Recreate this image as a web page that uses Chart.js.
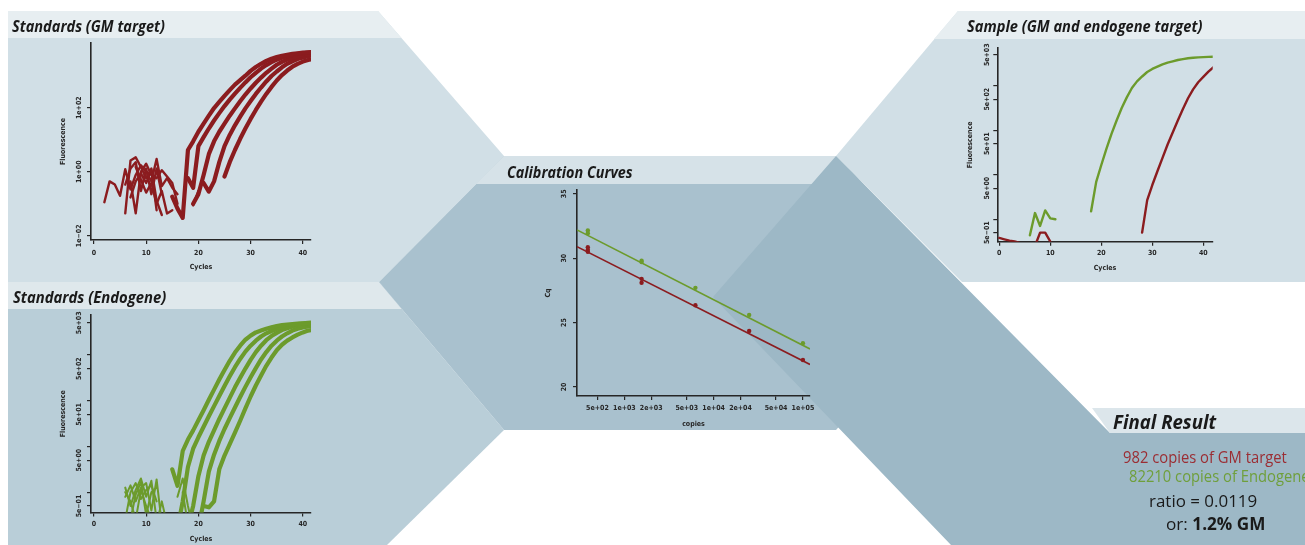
<!DOCTYPE html>
<html>
<head>
<meta charset="utf-8">
<title>qPCR quantification</title>
<script src="https://cdn.jsdelivr.net/npm/chart.js@4.4.1/dist/chart.umd.min.js"></script>
<style>
  html, body { margin: 0; padding: 0; background: #fff; }
  #stage { position: relative; width: 1305px; height: 545px; overflow: hidden; }
  #bg, .chart { position: absolute; }
  .txt { position: absolute; left: 0; top: 0; white-space: nowrap; transform-origin: 0 0;
         font-family: "Open Sans", "Liberation Sans", sans-serif; color: #1a1a1a; }
  .head { font-weight: 700; font-style: italic; font-size: 15.5px; }
</style>
</head>
<body>
<div id="stage">
  <canvas id="bg" width="1305" height="545" style="left:0;top:0"></canvas>
  <canvas id="gmChart" class="chart" width="280" height="250" style="left:40px;top:33px"></canvas>
  <canvas id="enChart" class="chart" width="280" height="240" style="left:40px;top:305px"></canvas>
  <canvas id="calChart" class="chart" width="290" height="245" style="left:530px;top:185px"></canvas>
  <canvas id="smpChart" class="chart" width="272" height="245" style="left:950px;top:38px"></canvas>

  <div class="txt head" data-x="12" data-b="31.5" data-w="153">Standards (GM target)</div>
  <div class="txt head" data-x="13" data-b="303" data-w="153">Standards (Endogene)</div>
  <div class="txt head" data-x="507" data-b="177.5" data-w="126">Calibration Curves</div>
  <div class="txt head" data-x="967" data-b="31.5" data-w="235">Sample (GM and endogene target)</div>
  <div class="txt head" style="font-size:19px" data-x="1113" data-b="428.5" data-w="103">Final Result</div>
  <div class="txt" id="res1" style="font-size:15.5px;color:#9b2d33" data-x="1123" data-b="462.5" data-w="164">982 copies of GM target</div>
  <div class="txt" style="font-size:15.5px;color:#6f9f3b" data-x="1129" data-b="481.5" data-same="res1">82210 copies of Endogene</div>
  <div class="txt" style="font-size:16px" data-x="1149" data-b="507" data-w="108">ratio = 0.0119</div>
  <div class="txt" style="font-size:17px" data-x="1166" data-b="530" data-w="99">or: <b>1.2% GM</b></div>
</div>
<script>
// ---------- data (fluorescence as log10, each run starts at the given cycle) ----------
const cycleTicks = [0, 10, 20, 30, 40];
const cycleLabels = ["0", "10", "20", "30", "40"];

const gmYTicks = [-2, 0, 2];
const gmYLabels = ["1e\u221202", "1e+00", "1e+02"];
const fiveYTicks = [-0.301, 0, 0.699, 1, 1.699, 2, 2.699, 3, 3.699];
const fiveYLabels = ["5e\u221201", "", "5e+00", "", "5e+01", "", "5e+02", "", "5e+03"];

// Standards (GM target)
const gmRunStarts = [15, 18, 19, 21, 25];
const gmRunA = [-0.78, -1.15, -1.44, 0.68, 0.95, 1.25, 1.5, 1.75, 1.99, 2.18, 2.37, 2.55, 2.72, 2.86, 3.0, 3.15, 3.27, 3.37, 3.46, 3.53, 3.58, 3.62, 3.65, 3.68, 3.7, 3.72, 3.73, 3.74];
const gmRunB = [-0.2, -0.5, 0.8, 1.08, 1.35, 1.6, 1.83, 2.05, 2.25, 2.44, 2.62, 2.79, 2.95, 3.09, 3.22, 3.33, 3.42, 3.5, 3.56, 3.61, 3.65, 3.68, 3.7, 3.72, 3.73];
const gmRunC = [-1.0, -0.7, -0.1, 0.55, 0.95, 1.25, 1.5, 1.75, 1.98, 2.2, 2.41, 2.6, 2.78, 2.94, 3.09, 3.22, 3.34, 3.43, 3.5, 3.56, 3.61, 3.65, 3.67, 3.69];
const gmRunD = [-0.35, -0.62, -0.3, 0.3, 0.8, 1.15, 1.45, 1.72, 1.98, 2.21, 2.43, 2.63, 2.82, 2.99, 3.13, 3.26, 3.37, 3.45, 3.52, 3.57, 3.61, 3.64];
const gmRunE = [-0.15, 0.3, 0.68, 1.03, 1.35, 1.65, 1.93, 2.19, 2.43, 2.65, 2.85, 3.02, 3.16, 3.28, 3.37, 3.44, 3.49, 3.52];
const gmNoiseStarts = [2, 6, 7, 6, 7, 8, 19];
const gmNoise1 = [-0.95, -0.3, -0.4, -0.75, 0.08, -0.55, -0.1, 0.2, 0.0, -0.3, 0.4, -0.45, -0.2, -0.5, -0.7];
const gmNoise2 = [-1.3, 0.35, 0.45, 0.15, -0.2, 0.1, -0.9, -1.35];
const gmNoise3 = [-0.3, -1.3, 0.0, 0.25, -0.1, -0.2, 0.05, -0.15, -0.35, -1.0];
const gmNoise4 = [-0.4, 0.1, 0.3, -0.6, 0.1, -0.7, 0.1, -0.7];
const gmNoise5 = [-0.8, -0.3, -0.05, -0.35, 0.05, -1.2];
const gmNoise6 = [0.15, -0.25, -0.65, -0.35, -1.0, -0.6, -1.3, -1.2];
const gmNoise7 = [-1.05, -0.6];

// Standards (Endogene)
const enRunStarts = [15, 16, 18, 20, 21];
const enRunA = [0.5, 0.14, 0.9, 1.15, 1.35, 1.57, 1.79, 2.02, 2.24, 2.46, 2.67, 2.87, 3.05, 3.2, 3.33, 3.42, 3.49, 3.53, 3.57, 3.6, 3.63, 3.65, 3.66, 3.67, 3.68, 3.69, 3.7, 3.71];
const enRunB = [-0.8, -0.2, 0.55, 0.95, 1.2, 1.43, 1.66, 1.88, 2.1, 2.32, 2.53, 2.73, 2.91, 3.07, 3.2, 3.31, 3.4, 3.47, 3.52, 3.57, 3.6, 3.63, 3.65, 3.67, 3.68, 3.69, 3.7];
const enRunC = [-0.75, -0.3, 0.35, 0.8, 1.1, 1.35, 1.6, 1.83, 2.06, 2.29, 2.5, 2.7, 2.89, 3.06, 3.2, 3.32, 3.41, 3.48, 3.54, 3.58, 3.62, 3.64, 3.66, 3.67, 3.68];
const enRunD = [-0.8, -0.2, 0.45, 0.82, 1.12, 1.38, 1.62, 1.85, 2.08, 2.3, 2.51, 2.71, 2.9, 3.06, 3.2, 3.31, 3.4, 3.47, 3.53, 3.57, 3.6, 3.62, 3.63];
const enRunE = [-0.3, -0.33, -0.2, 0.5, 0.8, 1.05, 1.3, 1.56, 1.83, 2.09, 2.33, 2.55, 2.76, 2.94, 3.1, 3.22, 3.31, 3.38, 3.44, 3.49, 3.53, 3.55];
const enNoiseStarts = [6, 6, 6, 7, 6, 12, 16, 17];
const enNoise1 = [0.1, -0.3, 0.05, 0.3, -0.1, 0.25, -0.6];
const enNoise2 = [-0.1, 0.15, -0.2, 0.1, 0.2, -0.4, 0.28, -0.7];
const enNoise3 = [-0.6, 0.0, 0.2, -0.15, 0.05, 0.15, -0.2];
const enNoise4 = [-0.6, -0.05, 0.22, -0.5, 0.0, 0.1];
const enNoise5 = [0.0, -0.2, -0.6, 0.05, -0.3, -0.6];
const enNoise6 = [-0.7, -0.2, -0.7];
const enNoise7 = [-0.1, 0.3, -0.3, -0.8];
const enNoise8 = [0.0, -0.7];

// Sample (GM and endogene target)
const smpGreenNoiseStart = 6;
const smpGreenNoise = [-0.36, 0.14, -0.15, 0.2, 0.02, 0.0];
const smpGreenStart = 18;
const smpGreen = [0.18, 0.84, 1.22, 1.58, 1.92, 2.22, 2.5, 2.74, 2.95, 3.1, 3.21, 3.31, 3.38, 3.43, 3.48, 3.52, 3.55, 3.58, 3.6, 3.62, 3.63, 3.64, 3.645, 3.65, 3.655];
const smpRedNoiseStarts = [0, 7];
const smpRedNoise1 = [-0.42, -0.45, -0.48, -0.5, -0.53];
const smpRedNoise2 = [-0.6, -0.3, -0.3, -0.5];
const smpRedStart = 28;
const smpRed = [-0.3, 0.43, 0.77, 1.08, 1.38, 1.68, 1.95, 2.22, 2.48, 2.72, 2.92, 3.08, 3.2, 3.32, 3.42];

// Calibration curves
const calXTicks = [500, 1000, 2000, 5000, 10000, 20000, 50000, 100000];
const calXLabels = ["5e+02", "1e+03", "2e+03", "5e+03", "1e+04", "2e+04", "5e+04", "1e+05"];
const calYTicks = [20, 25, 30, 35];
const calYLabels = ["20", "25", "30", "35"];
const calGmCopies = [390, 390, 390, 1560, 1560, 6250, 25000, 100000];
const calGmCq = [30.85, 30.65, 30.5, 28.4, 28.1, 26.35, 24.35, 22.1];
const calEnCopies = [390, 390, 1560, 1560, 6250, 25000, 100000];
const calEnCq = [32.15, 31.95, 29.8, 29.7, 27.7, 25.6, 23.4];
const fitCopies = [295, 120000];
const fitGmCq = [30.9, 21.75];
const fitEnCq = [32.2, 22.95];

// ---------- styling ----------
const INK = "#262626";
const RED = "#8b1c1f";
const GREEN = "#6c9b2c";
const FAMILY = "'Liberation Sans Narrow','DejaVu Sans Condensed',sans-serif";
const tickFont = { family: FAMILY, size: 7, weight: "bold" };

// ---------- background panels ----------
const bg = document.getElementById("bg").getContext("2d");
function panel(points, color) {
  bg.beginPath();
  points.forEach(([x, y], i) => (i ? bg.lineTo(x, y) : bg.moveTo(x, y)));
  bg.closePath();
  bg.fillStyle = color;
  bg.fill();
}
panel([[8, 11], [378, 11], [504, 156], [379, 282], [8, 282]], "#d1dfe6");
panel([[8, 11], [378, 11], [401.5, 38], [8, 38]], "#e7eef1");
panel([[8, 282], [379, 282], [504, 430], [387, 545], [8, 545]], "#b9ced8");
panel([[8, 282], [379, 282], [401.8, 309], [8, 309]], "#dfe8ec");
panel([[379, 282], [504, 156], [838, 156], [962, 293], [836, 430], [504, 430]], "#a9c1ce");
panel([[504, 156], [838, 156], [862, 184], [476, 184]], "#d6e2e8");
panel([[958, 11], [1305, 11], [1305, 282], [962, 282], [836, 156]], "#d1dfe6");
panel([[958, 11], [1305, 11], [1305, 39], [934, 39]], "#e7eef1");
panel([[836, 156], [1110, 433], [1305, 433], [1305, 545], [951, 545], [713, 297]], "#9db8c6");
panel([[1092, 408], [1305, 408], [1305, 433], [1110, 433]], "#dce6eb");

// ---------- text placement ----------
const scales = {};
document.querySelectorAll(".txt").forEach(el => {
  const mark = document.createElement("span");
  mark.style.cssText = "display:inline-block;width:0;height:0";
  el.appendChild(mark);
  el.style.left = el.dataset.x + "px";
  el.style.top = (el.dataset.b - mark.offsetTop) + "px";
  let k = 1;
  if (el.dataset.w) k = el.dataset.w / el.offsetWidth;
  if (el.dataset.same) k = scales[el.dataset.same];
  if (el.id) scales[el.id] = k;
  el.style.transform = "scaleX(" + k + ")";
});

// ---------- chart helpers ----------
function run(start, vals, color, width) {
  return {
    data: vals.map((v, i) => ({ x: start + i, y: v })),
    borderColor: color, borderWidth: width, pointRadius: 0, tension: 0,
    borderCapStyle: "round", borderJoinStyle: "round", clip: 0
  };
}

function axisStyle() {
  return {
    grid: { drawOnChartArea: false, drawTicks: true, tickLength: 4, color: INK, lineWidth: 1.2 },
    border: { display: true, color: INK, width: 1.6 }
  };
}

function xAxis(c) {
  return Object.assign(axisStyle(), {
    type: c.type || "linear", min: c.min, max: c.max,
    afterBuildTicks: s => { s.ticks = c.ticks.map(v => ({ value: v })); },
    afterFit: s => { s.height = c.height; },
    ticks: { color: INK, font: tickFont, padding: c.pad, maxRotation: 0, autoSkip: false,
             callback: (v, i) => c.labels[i] },
    title: { display: true, text: c.title, color: INK, font: tickFont, padding: { top: 0, bottom: c.titlePad } }
  });
}

function yAxis(c) {
  return Object.assign(axisStyle(), {
    type: "linear", min: c.min, max: c.max,
    afterBuildTicks: s => { s.ticks = c.ticks.map(v => ({ value: v })); },
    afterFit: s => { s.width = c.width; },
    ticks: { display: false },
    title: { display: true, text: c.title, color: INK, font: tickFont, padding: { top: c.titlePad, bottom: 0 } }
  });
}

// y tick labels turned to read upwards, as in the R plots
function yTickLabels(ticks, labels, gap) {
  return {
    id: "yTickLabels",
    afterDraw(chart) {
      const s = chart.scales.y, ctx = chart.ctx;
      ctx.save();
      ctx.font = "bold 7px " + FAMILY;
      ctx.fillStyle = INK;
      ctx.textAlign = "center";
      ctx.textBaseline = "middle";
      ticks.forEach((v, i) => {
        if (!labels[i]) return;
        ctx.save();
        ctx.translate(s.right - gap, s.getPixelForValue(v));
        ctx.rotate(-Math.PI / 2);
        ctx.fillText(labels[i], 0, 0);
        ctx.restore();
      });
      ctx.restore();
    }
  };
}

function makeChart(id, datasets, padding, x, y, labelPlugin) {
  return new Chart(document.getElementById(id), {
    type: "line",
    data: { datasets },
    options: {
      responsive: false, animation: false, events: [],
      layout: { padding },
      plugins: { legend: { display: false }, tooltip: { enabled: false } },
      scales: { x: xAxis(x), y: yAxis(y) }
    },
    plugins: [labelPlugin]
  });
}

// ---------- Standards (GM target) ----------
const gmSets = []
  .concat([gmNoise1, gmNoise2, gmNoise3, gmNoise4, gmNoise5, gmNoise6, gmNoise7]
    .map((v, i) => run(gmNoiseStarts[i], v, RED, 2.4)))
  .concat([gmRunA, gmRunB, gmRunC, gmRunD, gmRunE]
    .map((v, i) => run(gmRunStarts[i], v, RED, 4.2)));
makeChart("gmChart", gmSets, { left: 0, top: 10, right: 9, bottom: 0 },
  { min: -0.56, max: 41.56, ticks: cycleTicks, labels: cycleLabels, title: "Cycles", height: 43, pad: 5, titlePad: 11.8 },
  { min: -2.13, max: 4.02, ticks: gmYTicks, title: "Fluorescence", width: 51, titlePad: 19 },
  yTickLabels(gmYTicks, gmYLabels, 12));

// ---------- Standards (Endogene) ----------
const enSets = []
  .concat([enNoise1, enNoise2, enNoise3, enNoise4, enNoise5, enNoise6, enNoise7, enNoise8]
    .map((v, i) => run(enNoiseStarts[i], v, GREEN, 2)))
  .concat([enRunA, enRunB, enRunC, enRunD, enRunE]
    .map((v, i) => run(enRunStarts[i], v, GREEN, 4.2)));
makeChart("enChart", enSets, { left: 0, top: 10, right: 9, bottom: 0 },
  { min: -0.56, max: 41.56, ticks: cycleTicks, labels: cycleLabels, title: "Cycles", height: 32.5, pad: 3, titlePad: 1.5 },
  { min: -0.443, max: 3.87, ticks: fiveYTicks, title: "Fluorescence", width: 51, titlePad: 19 },
  yTickLabels(fiveYTicks, fiveYLabels, 11.7));

// ---------- Sample ----------
const smpSets = [
  run(smpRedNoiseStarts[0], smpRedNoise1, RED, 2.4),
  run(smpRedNoiseStarts[1], smpRedNoise2, RED, 2.4),
  run(smpRedStart, smpRed, RED, 2.4),
  run(smpGreenNoiseStart, smpGreenNoise, GREEN, 2.4),
  run(smpGreenStart, smpGreen, GREEN, 2.4)
];
makeChart("smpChart", smpSets, { left: 0, top: 10, right: 9.3, bottom: 0 },
  { min: -0.39, max: 41.84, ticks: cycleTicks, labels: cycleLabels, title: "Cycles", height: 41.3, pad: 3.7, titlePad: 10.5 },
  { min: -0.504, max: 3.85, ticks: fiveYTicks, title: "Fluorescence", width: 47.3, titlePad: 15.8 },
  yTickLabels(fiveYTicks, fiveYLabels, 10.6));

// ---------- Calibration curves ----------
const pts = (xs, ys) => xs.map((x, i) => ({ x, y: ys[i] }));
const calSets = [
  { data: pts(fitCopies, fitEnCq), borderColor: GREEN, borderWidth: 1.6, pointRadius: 0, clip: 0 },
  { data: pts(fitCopies, fitGmCq), borderColor: RED, borderWidth: 1.6, pointRadius: 0, clip: 0 },
  { data: pts(calEnCopies, calEnCq), showLine: false, pointRadius: 2.2, pointBorderWidth: 0, pointBackgroundColor: GREEN },
  { data: pts(calGmCopies, calGmCq), showLine: false, pointRadius: 2.2, pointBorderWidth: 0, pointBackgroundColor: RED }
];
makeChart("calChart", calSets, { left: 0, top: 5, right: 10, bottom: 0 },
  { type: "logarithmic", min: 295, max: 120000, ticks: calXTicks, labels: calXLabels, title: "copies", height: 34, pad: 4, titlePad: 1.8 },
  { min: 19.3, max: 35.3, ticks: calYTicks, title: "Cq", width: 47, titlePad: 13.8 },
  yTickLabels(calYTicks, calYLabels, 12.7));
</script>
</body>
</html>
